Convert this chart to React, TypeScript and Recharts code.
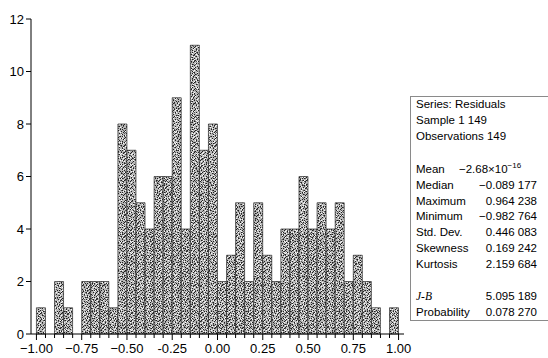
import React from 'react';
import { ComposedChart, Bar, XAxis, YAxis } from 'recharts';

// Histogram bins (width 0.05) – bin centres and counts
const binCenters = [
  -0.975, -0.925, -0.875, -0.825, -0.775, -0.725, -0.675, -0.625, -0.575, -0.525,
  -0.475, -0.425, -0.375, -0.325, -0.275, -0.225, -0.175, -0.125, -0.075, -0.025,
  0.025, 0.075, 0.125, 0.175, 0.225, 0.275, 0.325, 0.375, 0.425, 0.475,
  0.525, 0.575, 0.625, 0.675, 0.725, 0.775, 0.825, 0.875, 0.925, 0.975,
];
const counts = [
  1, 0, 2, 1, 0, 2, 2, 2, 1, 8,
  7, 5, 4, 6, 6, 9, 4, 11, 7, 8,
  2, 3, 5, 2, 5, 3, 2, 4, 4, 6,
  4, 5, 4, 5, 2, 3, 2, 1, 0, 1,
];

const majorTicks = [-1, -0.75, -0.5, -0.25, 0, 0.25, 0.5, 0.75, 1];
const majorTickLabels = ['−1.00', '−0.75', '−0.50', '-0.25', '0.00', '0.25', '0.50', '0.75', '1.00'];
const minorTicks = [
  -1, -0.95, -0.9, -0.85, -0.8, -0.75, -0.7, -0.65, -0.6, -0.55,
  -0.5, -0.45, -0.4, -0.35, -0.3, -0.25, -0.2, -0.15, -0.1, -0.05,
  0, 0.05, 0.1, 0.15, 0.2, 0.25, 0.3, 0.35, 0.4, 0.45,
  0.5, 0.55, 0.6, 0.65, 0.7, 0.75, 0.8, 0.85, 0.9, 0.95, 1,
];
const yTicks = [0, 2, 4, 6, 8, 10, 12];

const statHeader = ['Series: Residuals', 'Sample 1 149', 'Observations 149'];
const statLabels = ['Mean', 'Median', 'Maximum', 'Minimum', 'Std. Dev.', 'Skewness', 'Kurtosis'];
const statValues = ['−2.68×10', '−0.089 177', '0.964 238', '−0.982 764', '0.446 083', '0.169 242', '2.159 684'];
const meanExponent = '−16';
const testLabels = ['J-B', 'Probability'];
const testValues = ['5.095 189', '0.078 270'];

const data = binCenters.map((x, i) => ({ x, count: counts[i] }));

// texture for the stippled bars (style only): three overlapping dot tiles of coprime sizes
const DOTS_A = [[0, 0], [3, 1], [5, 2], [1, 3], [6, 4], [2, 5], [4, 6], [5, 5], [3, 3]];
const DOTS_C = [
  [1, 0], [6, 0], [10, 1], [3, 2], [8, 2], [12, 3], [0, 4], [5, 4], [9, 5], [2, 6],
  [7, 6], [11, 7], [4, 8], [12, 8], [1, 9], [6, 9], [9, 10], [3, 11], [8, 11], [0, 12],
  [11, 12], [5, 12], [7, 3], [2, 1], [10, 4], [4, 3], [8, 7], [1, 11],
];
const DOTS_B = [
  [2, 0], [7, 1], [0, 2], [4, 3], [9, 3], [6, 5], [1, 6], [10, 6], [3, 7], [8, 8],
  [5, 9], [0, 10], [9, 10], [2, 4], [7, 4], [5, 1], [10, 0], [4, 10], [6, 7],
];

const FONT = '"Liberation Sans", Arial, Helvetica, sans-serif';

const XTick = (props: any) => {
  const { x, y, payload } = props;
  const idx = majorTicks.findIndex((t) => Math.abs(t - payload.value) < 1e-6);
  const major = idx >= 0;
  return (
    <g>
      <line x1={x} x2={x} y1={y} y2={y + (major ? 6 : 4)} stroke="#000" strokeWidth={1} />
      {major && (
        <text x={x} y={y + 19} textAnchor="middle" fontSize={13} fontFamily={FONT} fill="#000">
          {majorTickLabels[idx]}
        </text>
      )}
    </g>
  );
};

const StatsBox = () => {
  const lx = 416;
  const vx = 537;
  const lh = 15.8;
  return (
    <svg width={548} height={358} style={{ position: 'absolute', left: 0, top: 0 }}>
      <rect x={410.5} y={96.5} width={160} height={224} fill="#fff" stroke="#8a8a8a" strokeWidth={1} />
      <g fontFamily={FONT} fontSize={11.5} fill="#000">
        {statHeader.map((t, i) => (
          <text key={t} x={lx} y={108 + i * lh}>{t}</text>
        ))}
        {statLabels.map((t, i) => (
          <text key={t} x={lx} y={173 + i * lh}>{t}</text>
        ))}
        {statValues.map((t, i) =>
          i === 0 ? (
            <text key={t} x={459} y={173}>
              {t}
              <tspan dy={-5} fontSize={8}>{meanExponent}</tspan>
            </text>
          ) : (
            <text key={t} x={vx} y={173 + i * lh} textAnchor="end">{t}</text>
          )
        )}
        {testLabels.map((t, i) => (
          <text key={t} x={lx} y={300 + i * lh} fontStyle={i === 0 ? 'italic' : 'normal'} fontFamily={i === 0 ? '"Liberation Serif", "Times New Roman", serif' : FONT}>{t}</text>
        ))}
        {testValues.map((t, i) => (
          <text key={t} x={vx} y={300 + i * lh} textAnchor="end">{t}</text>
        ))}
      </g>
    </svg>
  );
};

export default function App() {
  return (
    <div style={{ position: 'absolute', left: 0, top: 0, width: 548, height: 358, background: '#fff' }}>
      <ComposedChart
        width={548}
        height={358}
        data={data}
        margin={{ top: 19, right: 144, bottom: 0, left: 0 }}
        barCategoryGap={0}
        style={{ fontFamily: FONT }}
      >
        <defs>
          <pattern id="tA" patternUnits="userSpaceOnUse" width={7} height={7}>
            {DOTS_A.map(([a, b], i) => (
              <rect key={i} x={a} y={b} width={1} height={1} fill="#1e1e1e" />
            ))}
          </pattern>
          <pattern id="tC" patternUnits="userSpaceOnUse" width={13} height={13}>
            {DOTS_C.map(([a, b], i) => (
              <rect key={i} x={a} y={b} width={1} height={1} fill="#555" />
            ))}
          </pattern>
          <pattern id="tB" patternUnits="userSpaceOnUse" width={11} height={11}>
            {DOTS_B.map(([a, b], i) => (
              <rect key={i} x={a} y={b} width={1} height={1} fill="#fafafa" />
            ))}
          </pattern>
          <pattern id="stip" patternUnits="userSpaceOnUse" width={1001} height={1001}>
            <rect width={1001} height={1001} fill="#b9b9b9" />
            <rect width={1001} height={1001} fill="url(#tC)" />
            <rect width={1001} height={1001} fill="url(#tB)" />
            <rect width={1001} height={1001} fill="url(#tA)" />
          </pattern>
        </defs>
        <XAxis
          dataKey="x"
          type="number"
          domain={[-1.03, 1.03]}
          ticks={minorTicks}
          interval={0}
          tick={<XTick />}
          tickLine={false}
          tickSize={0}
          tickMargin={0}
          height={24}
          axisLine={{ stroke: '#000', strokeWidth: 1.2 }}
          allowDataOverflow
        />
        <XAxis
          xAxisId="top"
          orientation="top"
          type="number"
          domain={[-1.03, 1.03]}
          height={0}
          tick={false}
          tickLine={false}
          axisLine={{ stroke: '#555', strokeWidth: 1 }}
        />
        <YAxis
          domain={[0, 12]}
          ticks={yTicks}
          interval={0}
          width={31}
          tickSize={5}
          tickMargin={2}
          tick={{ fontSize: 13, fill: '#000', fontFamily: FONT }}
          tickLine={{ stroke: '#000' }}
          axisLine={{ stroke: '#000', strokeWidth: 1 }}
        />
        <YAxis
          yAxisId="r"
          orientation="right"
          domain={[0, 12]}
          width={0}
          tick={false}
          tickLine={false}
          axisLine={{ stroke: '#555', strokeWidth: 1 }}
        />
        <Bar
          dataKey="count"
          fill="url(#stip)"
          stroke="#2a2a2a"
          strokeWidth={0.7}
          barSize={9}
          isAnimationActive={false}
        />
      </ComposedChart>
      <StatsBox />
    </div>
  );
}
